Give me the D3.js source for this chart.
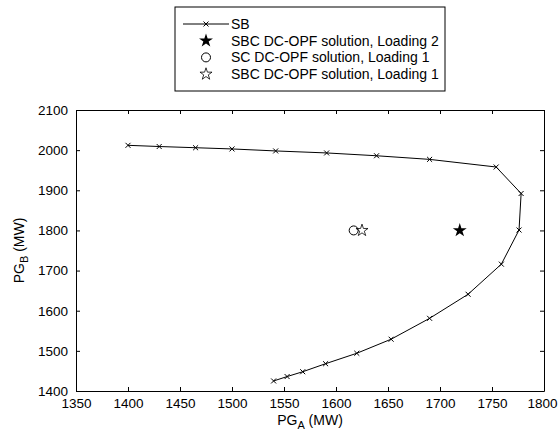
<!DOCTYPE html>
<html>
<head>
<meta charset="utf-8">
<script src="https://cdn.jsdelivr.net/npm/d3@7"></script>
<style>
  body { margin: 0; background: #fff; }
  svg text { font-family: "Liberation Sans", Arial, sans-serif; }
</style>
</head>
<body>
<div id="container"></div>
<script>
/* DATA */
const sbA = [1400, 1430, 1465, 1500, 1542, 1591, 1639, 1690, 1754, 1778, 1776, 1759, 1727, 1690, 1653, 1620, 1590, 1568, 1553, 1540];
const sbB = [2012, 2009, 2006, 2003, 1998, 1993, 1986, 1977, 1958, 1892, 1801, 1716, 1641, 1581, 1529, 1494, 1468, 1448, 1436, 1425];
const sbcLoad2 = [1719, 1800];
const scLoad1 = [1617, 1800];
const sbcLoad1 = [1625, 1800];
const xTicks = [1350, 1400, 1450, 1500, 1550, 1600, 1650, 1700, 1750, 1800];
const yTicks = [1400, 1500, 1600, 1700, 1800, 1900, 2000, 2100];
const legendLabels = ["SB", "SBC DC-OPF solution, Loading 2", "SC DC-OPF solution, Loading 1", "SBC DC-OPF solution, Loading 1"];

/* CONSTANTS */
const width = 558, height = 433,
  margin = { top: 110, bottom: 42, left: 76, right: 14 };

const svg = d3.select("#container")
  .append("svg")
  .attr("width", width)
  .attr("height", height);

const xScale = d3.scaleLinear()
  .domain([1350, 1800])
  .range([margin.left, width - margin.right]);

const yScale = d3.scaleLinear()
  .domain([1400, 2100])
  .range([height - margin.bottom, margin.top]);

// axes, matlab style: ticks inward on all four sides
const axisStyle = g => {
  g.selectAll(".domain").attr("stroke", "#000").attr("stroke-width", 1);
  g.selectAll(".tick line").attr("stroke", "#000");
  g.selectAll(".tick text").attr("font-size", "13.5px").attr("fill", "#000")
    .attr("font-family", "Liberation Sans, Arial, sans-serif");
};

svg.append("g")
  .attr("transform", `translate(0, ${height - margin.bottom})`)
  .call(d3.axisBottom(xScale).tickValues(xTicks).tickFormat(d3.format("d")).tickSizeInner(-4).tickSizeOuter(0).tickPadding(7))
  .call(axisStyle)
  .selectAll(".tick text")
  .filter(d => d === 1800)
  .attr("dx", -2);

svg.append("g")
  .attr("transform", `translate(${margin.left}, 0)`)
  .call(d3.axisLeft(yScale).tickValues(yTicks).tickFormat(d3.format("d")).tickSizeInner(-4).tickSizeOuter(0).tickPadding(8))
  .call(axisStyle);

svg.append("g")
  .attr("transform", `translate(0, ${margin.top})`)
  .call(d3.axisTop(xScale).tickValues(xTicks).tickSizeInner(-4).tickSizeOuter(0).tickFormat(""))
  .call(axisStyle);

svg.append("g")
  .attr("transform", `translate(${width - margin.right}, 0)`)
  .call(d3.axisRight(yScale).tickValues(yTicks).tickSizeInner(-4).tickSizeOuter(0).tickFormat(""))
  .call(axisStyle);

// axis labels
const xLabel = svg.append("text")
  .attr("x", (margin.left + width - margin.right) / 2)
  .attr("y", height - 8)
  .attr("text-anchor", "middle")
  .attr("font-size", "14px");
xLabel.append("tspan").text("PG");
xLabel.append("tspan").attr("dy", 4).attr("font-size", "11px").text("A");
xLabel.append("tspan").attr("dy", -4).text(" (MW)");

const yLabel = svg.append("text")
  .attr("transform", `translate(24, ${(margin.top + height - margin.bottom) / 2}) rotate(-90)`)
  .attr("text-anchor", "middle")
  .attr("font-size", "14px");
yLabel.append("tspan").text("PG");
yLabel.append("tspan").attr("dy", 4).attr("font-size", "11px").text("B");
yLabel.append("tspan").attr("dy", -4).text(" (MW)");

// SB curve
const sbData = sbA.map((a, i) => [a, sbB[i]]);

svg.append("path")
  .datum(sbData)
  .attr("fill", "none")
  .attr("stroke", "#000")
  .attr("stroke-width", 1)
  .attr("d", d3.line().x(d => xScale(d[0])).y(d => yScale(d[1])));

const cross = d3.symbol().type(d3.symbolTimes).size(18);

svg.selectAll("path.sbmark")
  .data(sbData)
  .join("path")
  .attr("class", "sbmark")
  .attr("transform", d => `translate(${xScale(d[0])}, ${yScale(d[1])})`)
  .attr("d", cross)
  .attr("fill", "none")
  .attr("stroke", "#000")
  .attr("stroke-width", 1);

// solution markers
svg.append("path")
  .attr("transform", `translate(${xScale(sbcLoad2[0])}, ${yScale(sbcLoad2[1])})`)
  .attr("d", d3.symbol().type(d3.symbolStar).size(60))
  .attr("fill", "#000");

svg.append("circle")
  .attr("cx", xScale(scLoad1[0]))
  .attr("cy", yScale(scLoad1[1]))
  .attr("r", 4.5)
  .attr("fill", "none")
  .attr("stroke", "#000");

svg.append("path")
  .attr("transform", `translate(${xScale(sbcLoad1[0])}, ${yScale(sbcLoad1[1])})`)
  .attr("d", d3.symbol().type(d3.symbolStar).size(45))
  .attr("fill", "none")
  .attr("stroke", "#000")
  .attr("stroke-width", 0.8);

// legend
const legend = svg.append("g").attr("transform", "translate(175, 7)");

legend.append("rect")
  .attr("width", 270)
  .attr("height", 84)
  .attr("fill", "#fff")
  .attr("stroke", "#000");

const rowY = i => 17 + i * 16.7;

legend.append("line")
  .attr("x1", 8).attr("x2", 54)
  .attr("y1", rowY(0)).attr("y2", rowY(0))
  .attr("stroke", "#000");
legend.append("path")
  .attr("transform", `translate(31, ${rowY(0)})`)
  .attr("d", cross)
  .attr("fill", "none")
  .attr("stroke", "#000");

legend.append("path")
  .attr("transform", `translate(31, ${rowY(1)})`)
  .attr("d", d3.symbol().type(d3.symbolStar).size(60))
  .attr("fill", "#000");

legend.append("circle")
  .attr("cx", 31).attr("cy", rowY(2)).attr("r", 4.5)
  .attr("fill", "none").attr("stroke", "#000");

legend.append("path")
  .attr("transform", `translate(31, ${rowY(3)})`)
  .attr("d", d3.symbol().type(d3.symbolStar).size(45))
  .attr("fill", "none")
  .attr("stroke", "#000")
  .attr("stroke-width", 0.8);

legend.selectAll("text.lab")
  .data(legendLabels)
  .join("text")
  .attr("class", "lab")
  .attr("x", 56)
  .attr("y", (d, i) => rowY(i))
  .attr("dy", "0.35em")
  .attr("font-size", "14px")
  .text(d => d);
</script>
</body>
</html>
